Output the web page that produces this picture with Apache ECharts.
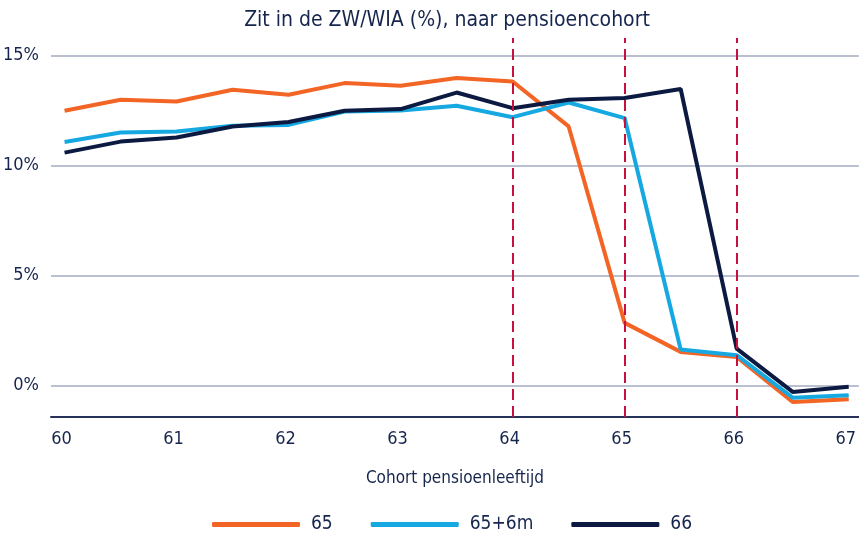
<!DOCTYPE html>
<html>
<head>
<meta charset="utf-8">
<script src="https://cdn.jsdelivr.net/npm/echarts@6/dist/echarts.min.js"></script>
<style>
  html, body { margin: 0; padding: 0; background: #fff; }
  #chart { width: 859px; height: 536px; }
</style>
</head>
<body>
<div id="chart"></div>
<script>
// cohort pension age (half-year steps)
const cohorts = [60, 60.5, 61, 61.5, 62, 62.5, 63, 63.5, 64, 64.5, 65, 65.5, 66, 66.5, 67];
const seriesNames = ['65', '65+6m', '66'];
const age65 = [12.49, 12.99, 12.91, 13.45, 13.22, 13.75, 13.63, 13.98, 13.82, 11.78, 2.85, 1.53, 1.30, -0.75, -0.62];
const age65m6 = [11.07, 11.50, 11.55, 11.81, 11.85, 12.46, 12.50, 12.72, 12.20, 12.87, 12.16, 1.64, 1.38, -0.55, -0.44];
const age66 = [10.59, 11.09, 11.28, 11.78, 11.98, 12.49, 12.57, 13.32, 12.61, 12.99, 13.07, 13.48, 1.68, -0.29, -0.06];
const markAges = [64, 65, 66];

const FONT = "'Liberation Sans Narrow', 'DejaVu Sans Condensed', sans-serif";
const TEXT = '#16254d';

const chart = echarts.init(document.getElementById('chart'));

function pairs(vals) {
  return cohorts.map((c, i) => [c, vals[i]]);
}

const option = {
  animation: false,
  textStyle: { fontFamily: FONT },
  title: {
    text: 'Zit in de ZW/WIA (%), naar pensioencohort',
    left: 442,
    textAlign: 'center',
    top: 5,
    textStyle: { fontFamily: FONT, fontSize: 21, fontWeight: 'normal', color: TEXT }
  },
  legend: {
    data: seriesNames,
    top: 510,
    left: 207,
    itemWidth: 88,
    itemHeight: 5,
    itemGap: 38,
    icon: 'roundRect',
    textStyle: { fontFamily: FONT, fontSize: 19, color: TEXT, padding: [0, 0, 0, 6] }
  },
  grid: {
    left: 51,
    right: 0,
    top: 38,
    bottom: 119
  },
  xAxis: {
    type: 'value',
    min: 59.879,
    max: 67.091,
    splitNumber: 5,
    name: 'Cohort pensioenleeftijd',
    nameLocation: 'middle',
    nameGap: 53,
    nameTextStyle: { fontFamily: FONT, fontSize: 17, color: TEXT },
    axisLine: { show: true, onZero: false, lineStyle: { color: '#26325a', width: 2 } },
    axisTick: { show: false },
    splitLine: { show: false },
    axisLabel: {
      showMinLabel: false,
      showMaxLabel: false,
      margin: 13,
      fontFamily: FONT,
      fontSize: 18,
      color: TEXT,
      padding: [0, 6, 0, 0],
      formatter: v => (Math.abs(v - Math.round(v)) < 1e-6 ? String(Math.round(v)) : '')
    }
  },
  yAxis: {
    type: 'value',
    min: -1.43,
    max: 15.8,
    splitNumber: 3,
    axisLine: { show: false },
    axisTick: { show: false },
    splitLine: {
      show: true,
      showMinLine: false,
      showMaxLine: false,
      lineStyle: { color: '#a4abc0', width: 1.5 }
    },
    axisLabel: {
      showMinLabel: false,
      showMaxLabel: false,
      margin: 12,
      fontFamily: FONT,
      fontSize: 18,
      color: TEXT,
      formatter: v => (Math.abs(v % 5) < 1e-6 ? Math.round(v) + '%' : '')
    }
  },
  series: [
    {
      name: seriesNames[0],
      type: 'line',
      data: pairs(age65),
      showSymbol: false,
      symbol: 'none',
      lineStyle: { color: '#f26524', width: 4 },
      itemStyle: { color: '#f26524' },
      markLine: {
        silent: true,
        symbol: 'none',
        label: { show: false },
        lineStyle: { color: '#c8103e', width: 2, type: [11, 6] },
        data: markAges.map(a => ({ xAxis: a }))
      }
    },
    {
      name: seriesNames[1],
      type: 'line',
      data: pairs(age65m6),
      showSymbol: false,
      symbol: 'none',
      lineStyle: { color: '#16a9e1', width: 4 },
      itemStyle: { color: '#16a9e1' }
    },
    {
      name: seriesNames[2],
      type: 'line',
      data: pairs(age66),
      showSymbol: false,
      symbol: 'none',
      lineStyle: { color: '#0c1a42', width: 4 },
      itemStyle: { color: '#0c1a42' }
    }
  ]
};

chart.setOption(option);
</script>
</body>
</html>
